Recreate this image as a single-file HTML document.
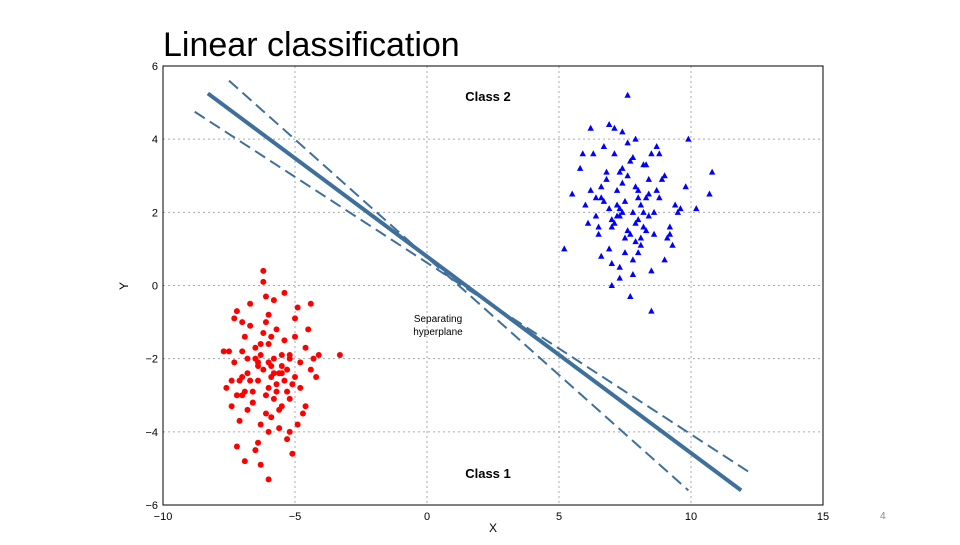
<!DOCTYPE html>
<html><head><meta charset="utf-8"><style>
body{margin:0;width:960px;height:540px;background:#fff;overflow:hidden;font-family:"Liberation Sans",sans-serif}
</style></head><body>
<svg id="chart" width="960" height="540" xmlns="http://www.w3.org/2000/svg">
<text x="163" y="56" font-size="34" font-family="Liberation Sans, sans-serif" fill="#000">Linear classification</text>
<text x="880" y="519" font-size="10" fill="#888">4</text>
<g id="grid"></g><g id="ticks"></g><g id="marks"></g>
<rect x="163" y="66" width="660" height="439" fill="none" stroke="#000" stroke-width="1"/>
<text x="493" y="532" font-size="12" text-anchor="middle">X</text>
<text x="128" y="286" font-size="12" text-anchor="middle" transform="rotate(-90 128 286)">Y</text>
<text x="488" y="101" font-size="13" font-weight="bold" text-anchor="middle">Class 2</text>
<text x="488" y="478" font-size="13" font-weight="bold" text-anchor="middle">Class 1</text>
<text x="438" y="322" font-size="10" text-anchor="middle">Separating</text>
<text x="438" y="335" font-size="10" text-anchor="middle">hyperplane</text>
</svg>
<script>
const xTicks=[-10,-5,0,5,10,15];
const yTicks=[-6,-4,-2,0,2,4,6];
const solidLine=[[-8.3,5.25],[11.9,-5.6]];
const dashUpper=[[-7.5,5.6],[9.9,-5.6]];
const dashLower=[[-8.8,4.75],[12.2,-5.1]];
const redX=[-6.2,-5.9,-6.5,-5.5,-6.0,-6.8,-5.2,-6.3,-5.7,-6.1,-7.0,-4.8,-6.4,-5.4,-6.6,-5.8,-6.9,-5.0,-6.2,-5.6,-7.3,-4.6,-6.0,-5.3,-6.7,-5.9,-7.1,-4.9,-6.3,-5.5,-7.5,-4.4,-6.1,-5.2,-6.8,-5.7,-7.2,-4.7,-6.4,-5.0,-3.3,-7.7,-6.0,-5.8,-6.5,-5.4,-7.0,-4.5,-6.2,-5.1,-6.6,-5.6,-7.4,-4.3,-6.3,-5.9,-6.9,-5.3,-7.6,-4.2,-6.0,-5.5,-6.7,-4.9,-7.2,-5.8,-6.4,-5.2,-7.0,-4.6,-6.1,-6.8,-5.7,-7.3,-4.8,-6.5,-5.4,-6.2,-7.1,-5.0,-7.4,-6.1,-5.8,-5.2,-6.6,-4.1,-7.2,-6.0,-5.6,-6.9,-5.9,-6.3,-5.5,-6.7,-5.1,-6.0,-6.4,-5.3,-7.0,-4.4];
const redY=[-2.3,-2.5,-2.0,-2.2,-2.8,-2.4,-1.9,-1.6,-2.7,-3.0,-1.8,-2.1,-2.6,-1.5,-3.2,-2.0,-2.9,-2.5,-1.3,-3.4,-2.1,-1.7,-0.8,-2.9,-1.1,-3.6,-2.6,-0.6,-3.8,-1.9,-1.8,-2.3,-0.3,-3.1,-3.4,-1.2,-0.7,-3.5,-4.3,-0.9,-1.9,-1.8,-4.0,-2.4,-4.5,-0.2,-3.0,-1.2,0.4,-2.7,-2.9,-3.9,-2.6,-2.0,-4.9,-1.4,-1.4,-4.2,-2.8,-2.5,-1.6,-3.3,-0.5,-3.8,-3.0,-0.4,-2.2,-2.0,-1.0,-3.3,-3.5,-2.0,-2.9,-0.9,-2.8,-1.7,-2.6,0.1,-3.7,-1.4,-3.3,-1.0,-3.1,-4.0,-3.2,-1.9,-4.4,-2.1,-2.4,-4.8,-2.2,-1.9,-2.4,-2.6,-4.6,-5.3,-2.1,-2.3,-2.5,-0.5];
const blueX=[7.5,7.8,7.2,8.1,7.0,7.6,8.4,6.8,7.9,7.3,8.6,6.6,7.7,8.2,6.9,7.4,8.8,6.4,7.1,8.0,9.0,6.2,7.5,8.3,6.7,7.8,9.2,6.0,7.3,8.5,6.5,7.9,9.4,5.8,7.6,8.1,7.0,8.7,6.3,7.4,9.6,5.5,7.8,8.4,6.9,7.2,9.8,5.2,7.6,8.0,10.8,10.7,8.3,6.6,9.0,7.3,6.1,8.9,7.7,8.5,7.1,9.3,6.4,7.9,8.2,10.2,9.9,7.5,6.8,8.6,7.0,5.9,8.0,7.4,9.1,6.7,8.3,7.7,6.2,8.8,7.3,9.5,7.9,6.5,8.1,7.2,7.6,8.4,6.9,8.7,7.1,7.8,8.2,6.6,9.2,7.4,8.0,7.0,7.3,8.5];
const blueY=[2.3,2.0,2.6,2.2,1.8,1.5,2.5,2.9,1.2,3.1,2.0,2.4,3.4,1.6,1.0,2.8,2.4,1.9,3.6,0.9,3.0,2.6,1.3,3.3,3.8,0.7,1.6,2.2,0.5,3.6,1.4,4.0,2.2,3.2,3.9,1.1,0.6,3.8,3.6,4.2,2.1,2.5,0.3,2.9,4.4,1.9,2.7,1.0,5.2,1.8,3.1,2.5,1.5,0.8,0.7,0.2,1.7,2.9,-0.3,0.4,4.3,1.1,2.4,1.7,3.3,2.1,4.0,0.9,3.1,1.4,0.0,3.6,2.6,2.0,1.3,2.3,2.4,1.4,4.3,3.6,1.9,2.0,2.7,1.6,1.3,2.2,3.0,1.9,2.1,2.6,1.7,3.5,2.0,2.7,1.4,3.2,2.4,1.6,2.1,-0.7];
const NS="http://www.w3.org/2000/svg";
const X0=163,X1=823,Y0=505,Y1=66;
function sx(v){return X0+(v+10)/25*(X1-X0);}
function sy(v){return Y0-(v+6)/12*(Y0-Y1);}
function mk(tag,attrs,parent){const e=document.createElementNS(NS,tag);for(const k in attrs)e.setAttribute(k,attrs[k]);parent.appendChild(e);return e;}
const grid=document.getElementById('grid'),ticks=document.getElementById('ticks'),marks=document.getElementById('marks');
xTicks.forEach(t=>{
 if(t>-10&&t<15){const g=mk('line',{x1:sx(t),x2:sx(t),y1:Y1,y2:Y0,stroke:'#aaa','stroke-dasharray':'2,3'},grid);
 
 }
 const l=mk('text',{x:sx(t),y:Y0+15,'font-size':11,'text-anchor':'middle'},ticks);
 l.textContent=t<0?'\u2212'+(-t):String(t);
 
 
});
yTicks.forEach(t=>{
 if(t>-6&&t<6){const g=mk('line',{x1:X0,x2:X1,y1:sy(t),y2:sy(t),stroke:'#aaa','stroke-dasharray':'2,3'},grid);
 
 }
 const l=mk('text',{x:X0-5,y:sy(t)+4,'font-size':11,'text-anchor':'end'},ticks);
 l.textContent=t<0?'\u2212'+(-t):String(t);
 
 
});
for(let i=0;i<redX.length;i++){
 const c=mk('circle',{cx:sx(redX[i]),cy:sy(redY[i]),r:3,fill:'#f00'},marks);
 
 
}
for(let i=0;i<blueX.length;i++){
 const x=sx(blueX[i]),y=sy(blueY[i]);
 const p=mk('polygon',{points:`${x},${y-3.5} ${x-3.2},${y+2.5} ${x+3.2},${y+2.5}`,fill:'#00f'},marks);
 
 
}
function drawLine(pts,w,dash,name){
 const a={x1:sx(pts[0][0]),y1:sy(pts[0][1]),x2:sx(pts[1][0]),y2:sy(pts[1][1]),stroke:'#3f6f9b','stroke-width':w};
 if(dash)a['stroke-dasharray']=dash;
 const l=mk('line',a,marks);
 
 
}
drawLine(dashUpper,2,'12,6','margin-line-upper');
drawLine(dashLower,2,'12,6','margin-line-lower');
drawLine(solidLine,4,null,'separating-hyperplane');
</script>
</body></html>
